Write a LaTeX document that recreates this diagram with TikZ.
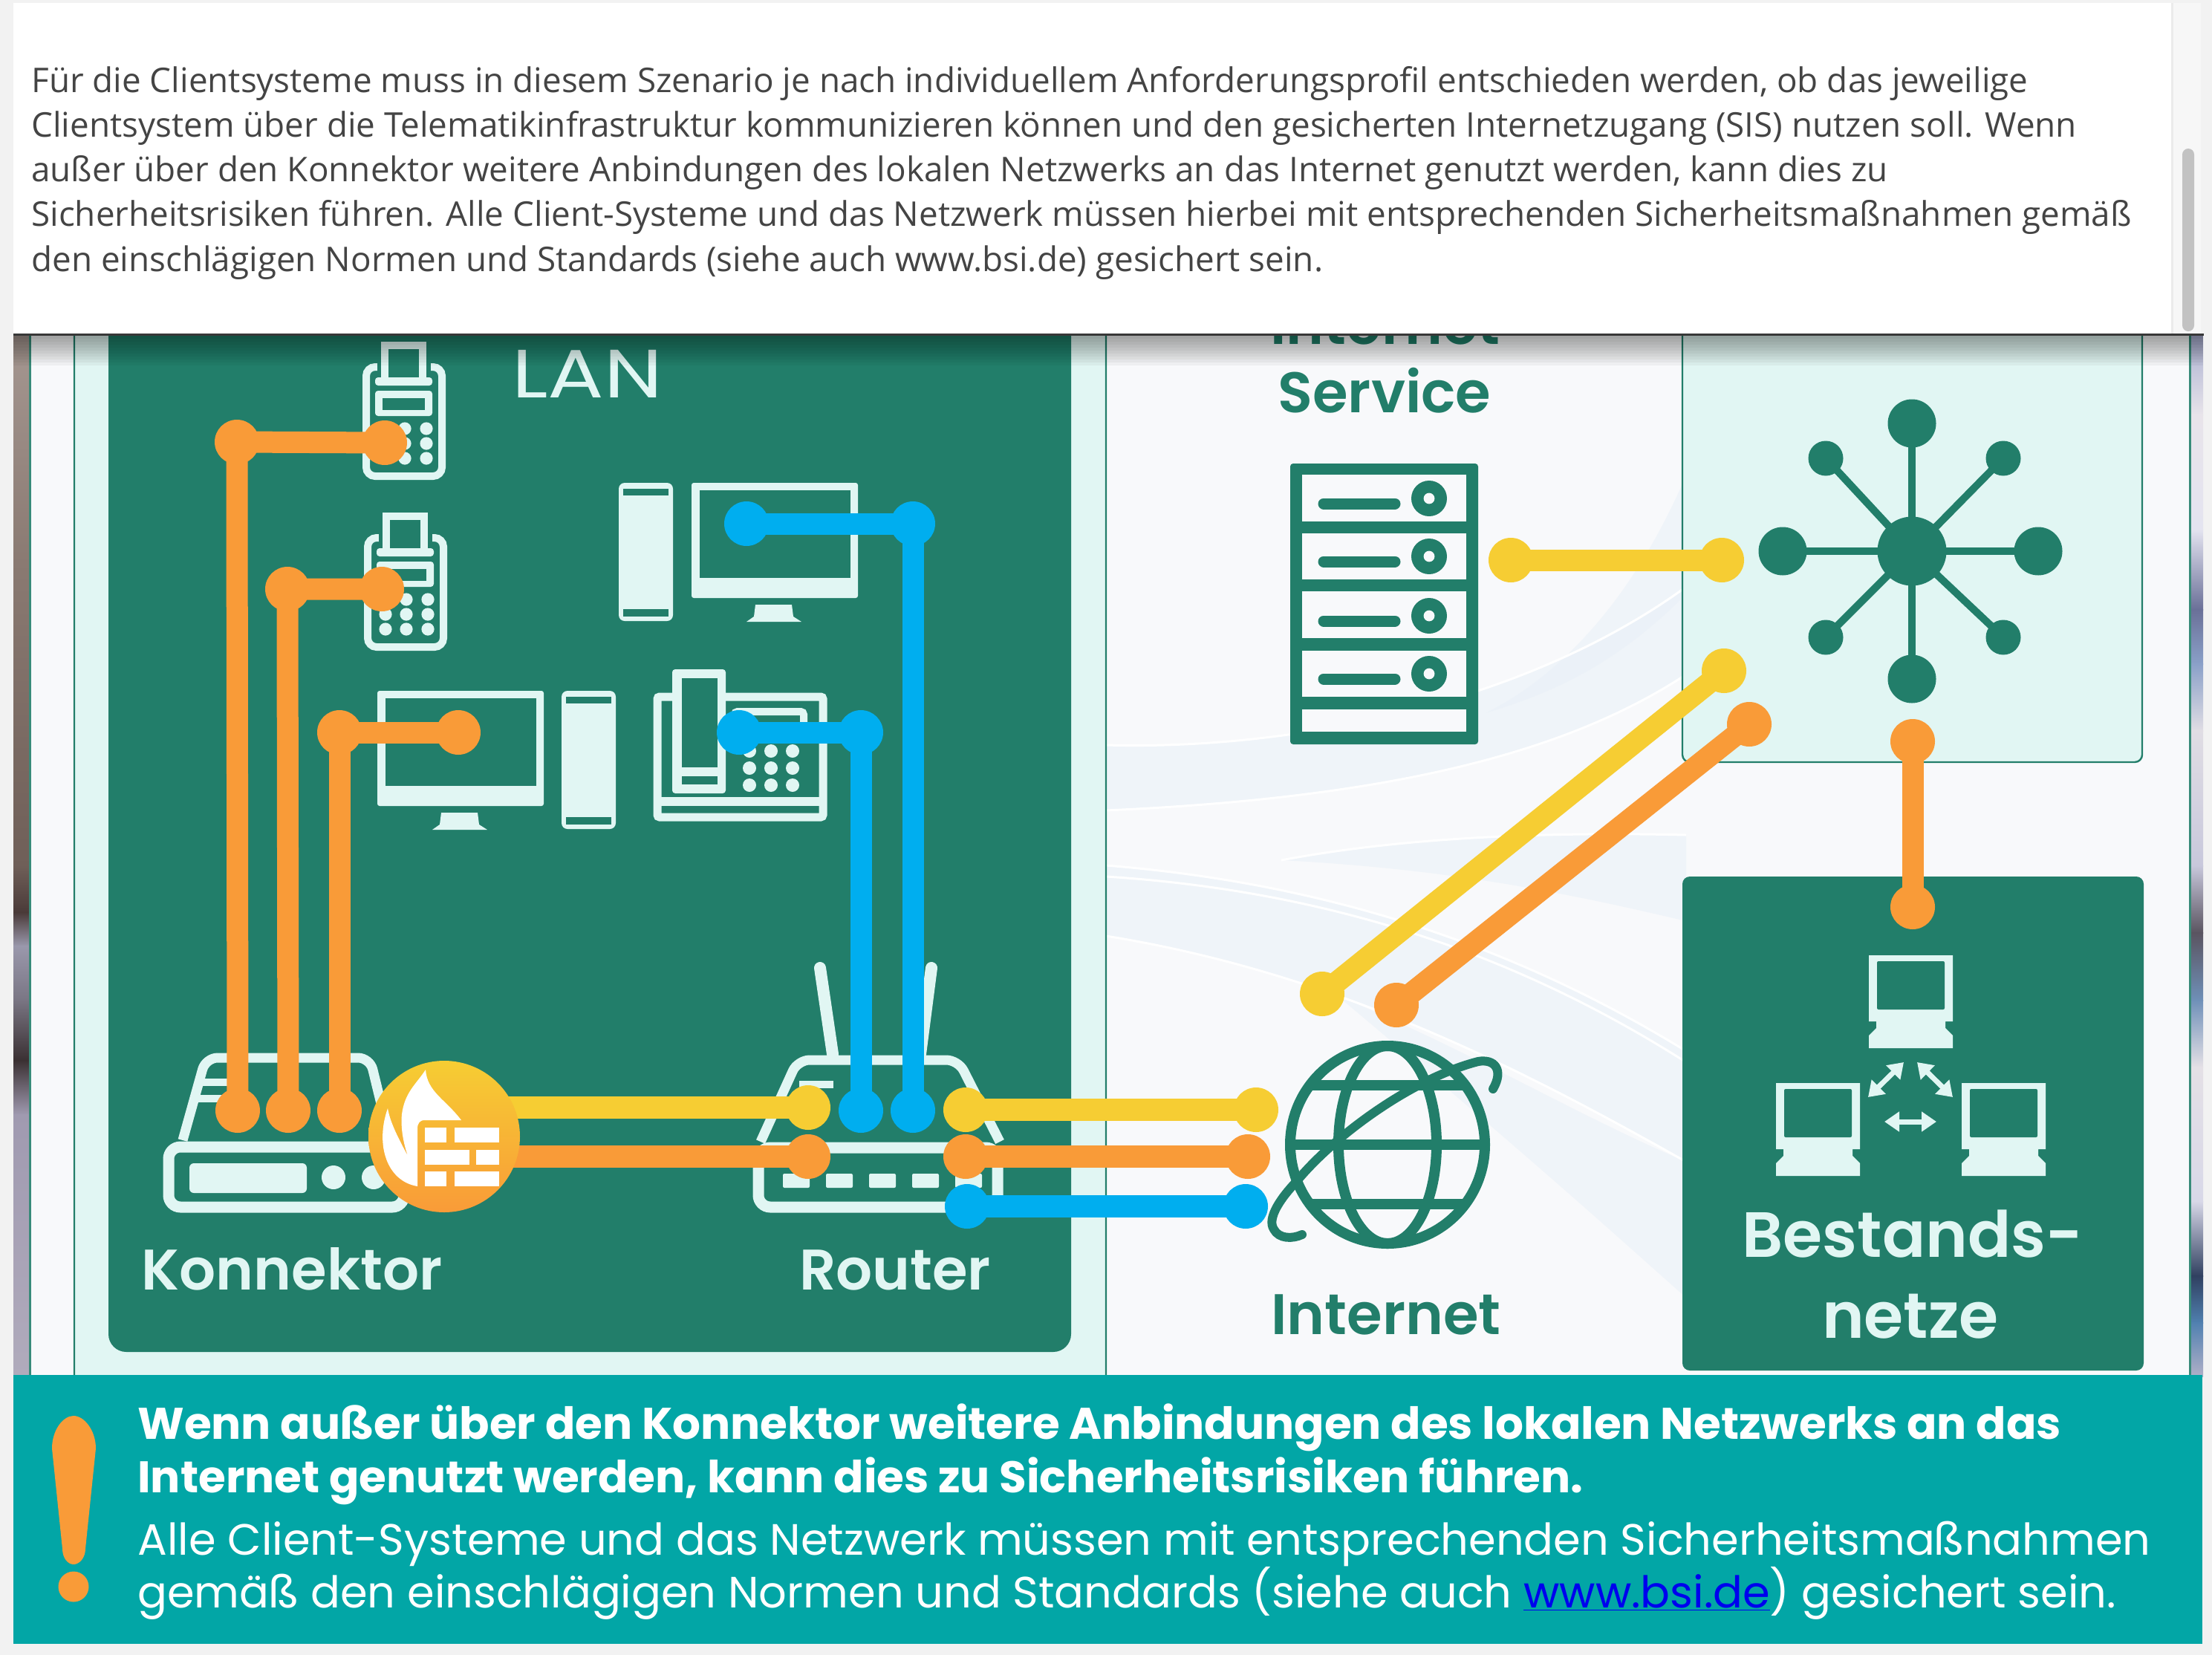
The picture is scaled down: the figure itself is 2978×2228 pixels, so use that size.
\documentclass[tikz,border=0pt]{standalone}
\usepackage{fontspec}
\setmainfont{Open Sans}
\newfontfamily\labelfont{Poppins}
\newfontfamily\labelmedium{Poppins SemiBold}
\usetikzlibrary{positioning,arrows.meta}

\definecolor{pagegray}{HTML}{F2F2F2}
\definecolor{paneltext}{HTML}{444444}
\definecolor{darkgreen}{HTML}{227E6A}
\definecolor{palegreen}{HTML}{E1F6F3}
\definecolor{bannerteal}{HTML}{02A6A6}
\definecolor{wireorange}{HTML}{F99B38}
\definecolor{wireyellow}{HTML}{F6CD33}
\definecolor{wireblue}{HTML}{00AEEF}
\definecolor{linkblue}{HTML}{0000EE}
\definecolor{backwhite}{HTML}{F8F9FB}
\definecolor{swooshblue}{HTML}{E9F0F8}

% Colours of the two photo strips at the edges
\definecolor{la}{HTML}{A59791}
\definecolor{lb}{HTML}{8A7A72}
\definecolor{lc}{HTML}{6F5F58}
\definecolor{ld}{HTML}{4A3A38}
\definecolor{le}{HTML}{9A98AC}
\definecolor{lf}{HTML}{7A7684}
\definecolor{lg}{HTML}{3A3032}
\definecolor{lh}{HTML}{A09AB0}
\definecolor{li}{HTML}{B0ABBC}
\definecolor{ra}{HTML}{A8AED0}
\definecolor{rb}{HTML}{E8E4EA}
\definecolor{rc}{HTML}{E4E4F0}
\definecolor{rd}{HTML}{6A7098}
\definecolor{re}{HTML}{8AA0C8}
\definecolor{rf}{HTML}{E0DDE4}
\definecolor{rg}{HTML}{C8C8DC}
\definecolor{rh}{HTML}{5A5460}
\definecolor{ri}{HTML}{6F90B8}
\definecolor{rj}{HTML}{E4E0E6}
\definecolor{rk}{HTML}{D8D8E8}
\definecolor{rl}{HTML}{304060}
\definecolor{rm}{HTML}{5080B0}
\definecolor{rn}{HTML}{B0B0C8}

\tikzset{
    pics/monitor/.style={code={
        \fill[palegreen,rounded corners=1.5pt] (0,0) rectangle (224,155);
        \fill[darkgreen] (11,10) rectangle (214,128);
        \fill[palegreen] (86,164) -- (135,164) -- (137,180) -- (148,187) -- (74,187) -- (84,180) -- cycle;
    }},
    pics/tower/.style={code={
        \fill[palegreen,rounded corners=4pt] (0,0) rectangle (73,186);
        \fill[darkgreen] (6,8) rectangle (67,17);
        \fill[darkgreen] (6,170) rectangle (67,180);
    }},
    pics/terminal/.style={code={
        \draw[iconline,line width=5pt,rounded corners=6pt] (5,5) rectangle (107,152);
        \fill[darkgreen] (20,-5) rectangle (92,15);
        \draw[iconline,line width=5pt] (30,19) -- (30,-24) -- (81,-24) -- (81,19);
        \fill[palegreen,rounded corners=2pt] (17,19) rectangle (94,30);
        \fill[palegreen,rounded corners=2pt] (17,37) rectangle (94,71);
        \fill[darkgreen] (27,47) rectangle (84,63);
        \foreach \r in {88,108,128}
            \foreach \c in {29,57,86}
                \fill[palegreen] (\c,\r) circle (4.3pt);
    }},
    pics/laptop/.style={code={
        \fill[palegreen] (0,0) -- (113,0) -- (113,89) -- (103,89) -- (103,98) -- (113,108) -- (113,125)
            -- (0,125) -- (0,108) -- (10,98) -- (10,89) -- (0,89) -- cycle;
        \fill[darkgreen,rounded corners=1pt] (11,8) rectangle (102,73);
    }}
}

\begin{document}
\begin{tikzpicture}[
        x=0.5pt,
        y=-0.5pt,
        iconline/.style={
            draw=palegreen,
            line width=7.5pt
        },
        wire/.style={
            line width=14.5pt
        },
        orangedot/.style={
            circle,
            fill=wireorange,
            inner sep=0pt,
            minimum size=30pt
        },
        yellowdot/.style={
            orangedot,
            fill=wireyellow
        },
        bluedot/.style={
            orangedot,
            fill=wireblue
        },
        hub/.style={
            circle,
            fill=darkgreen,
            inner sep=0pt,
            minimum size=#1
        },
        spoke/.style={
            draw=darkgreen,
            line width=5pt
        },
        swooshband/.style={
            swooshblue,
            opacity=.55
        },
        swooshline/.style={
            white,
            line width=1.5pt
        },
        panelline/.style={
            anchor=base west,
            inner sep=0pt,
            text=paneltext,
            font=\fontsize{22.9}{28}\selectfont
        },
        bannerline/.style={
            anchor=base west,
            inner sep=0pt,
            text=white,
            font=\labelfont\fontsize{29.5}{35}\selectfont
        },
        bannerbold/.style={
            bannerline,
            font=\labelfont\bfseries\fontsize{29.8}{35}\selectfont
        },
        greenlabel/.style={
            anchor=base,
            inner sep=0pt,
            text=darkgreen,
            font=\labelmedium\fontsize{38.5}{46}\selectfont
        },
        palelabel/.style={
            greenlabel,
            text=palegreen
        },
        biglabel/.style={
            palelabel,
            font=\labelmedium\fontsize{43}{52}\selectfont
        },
        doublearrow/.style={
            draw=palegreen,
            line width=3.5pt,
            {Triangle[length=10pt,width=13pt]}-{Triangle[length=10pt,width=13pt]}
        }
    ]
    \useasboundingbox (0,0) rectangle (2978,2228);

    % Page and backdrop
    \fill[pagegray] (0,0) rectangle (2978,2228);
    \fill[backwhite] (40,450) rectangle (2948,1852);
    \foreach \t/\b/\u/\v in {450/757/la/lb,757/1165/lb/lc,1165/1228/lc/ld,1228/1273/ld/le,1273/1345/le/lf,1345/1427/lf/lg,1427/1500/lg/lh,1500/1852/lh/li}
        \shade[top color=\u,bottom color=\v] (18,\t) rectangle (40,\b+1);
    \foreach \t/\b/\u/\v in {450/558/ra/rb,558/712/rb/rc,712/820/rc/rd,820/893/rd/re,893/983/re/rf,983/1165/rf/rg,1165/1255/rg/rh,1255/1346/rh/ri,1346/1436/ri/rj,1436/1617/rj/rk,1617/1717/rk/rl,1717/1780/rl/rm,1780/1852/rm/rn}
        \shade[top color=\u,bottom color=\v] (2948,\t) rectangle (2966,\b+1);

    % Soft swooshes behind the right part
    \begin{scope}
        \clip (1489,450) rectangle (2948,1852);
        \fill[swooshband] (1489,1003) .. controls (1735,1010) and (2050,950) .. (2270,790)
            -- (2270,908) .. controls (2100,1020) and (1850,1075) .. (1489,1091) -- cycle;
        \fill[swooshband] (2000,960) .. controls (2120,900) and (2210,780) .. (2270,640)
            -- (2270,800) .. controls (2180,890) and (2100,930) .. (2000,960) -- cycle;
        \fill[swooshband] (1489,1165) .. controls (1800,1190) and (2050,1280) .. (2270,1415)
            -- (2270,1564) .. controls (2050,1440) and (1800,1310) .. (1489,1260) -- cycle;
        \fill[swooshband] (1800,1340) .. controls (1990,1420) and (2120,1500) .. (2270,1564)
            -- (2270,1747) .. controls (2150,1640) and (2050,1550) .. (1800,1340) -- cycle;
        \fill[swooshband] (1725,1158) .. controls (1900,1125) and (2100,1120) .. (2270,1124)
            -- (2270,1240) .. controls (2100,1200) and (1950,1170) .. (1725,1158) -- cycle;
        \draw[swooshline] (1489,1165) .. controls (1800,1190) and (2050,1280) .. (2270,1415);
        \draw[swooshline] (1489,1180) .. controls (1800,1200) and (2050,1290) .. (2270,1430);
        \draw[swooshline] (1489,1260) .. controls (1800,1310) and (2050,1440) .. (2270,1564);
        \draw[swooshline] (1489,1003) .. controls (1735,1010) and (2050,950) .. (2270,790);
        \draw[swooshline] (1489,1091) .. controls (1850,1075) and (2100,1020) .. (2270,908);
        \draw[swooshline] (1725,1158) .. controls (1900,1125) and (2100,1120) .. (2270,1124);
    \end{scope}

    % Frames
    \draw[darkgreen!90!white,line width=1.5pt] (40,440) -- (40,1852);
    \draw[darkgreen!90!white,line width=1.5pt] (2948,440) -- (2948,1852);
    \draw[darkgreen,fill=palegreen,line width=1.2pt,rounded corners=12pt] (100,400) rectangle (1489,1890);
    \fill[darkgreen,rounded corners=12pt] (146,420) rectangle (1442,1820);
    \draw[darkgreen,fill=palegreen,line width=1.2pt,rounded corners=5pt] (2265,400) rectangle (2884,1026);
    \fill[darkgreen,rounded corners=5pt] (2265,1180) rectangle (2886,1845);

    % LAN devices
    \pic at (488,489) {terminal};
    \pic at (490,719) {terminal};
    \pic at (931,650) {monitor};
    \pic at (833,650) {tower};
    \pic at (508,930) {monitor};
    \pic at (756,930) {tower};

    % Desk phone
    \draw[iconline,line width=5.5pt,rounded corners=1.5pt] (885,938) rectangle (1108,1100);
    \draw[palegreen,line width=6pt] (885,1079) -- (1108,1079);
    \fill[palegreen,rounded corners=2pt] (905,901) rectangle (977,1068);
    \fill[darkgreen] (918,913) rectangle (966,1033);
    \fill[darkgreen] (918,1045) rectangle (966,1056);
    \draw[iconline,line width=5pt,rounded corners=2pt] (989,1000) -- (989,958) -- (1082,958) -- (1082,1000);
    \foreach \r in {988,1011,1034,1057}
        \foreach \c in {1009,1038,1067}
            \fill[palegreen] (\c,\r) circle (4.5pt);

    % Konnektor body
    \draw[iconline,rounded corners=8pt] (227,1544) rectangle (544,1625);
    \draw[iconline,line width=6.5pt,rounded corners=8pt] (246,1535) -- (277,1424) -- (498,1424) -- (525,1535);
    \draw[iconline,line width=5pt] (268,1457) -- (310,1457);
    \draw[iconline,line width=5pt] (260,1479) -- (310,1479);
    \fill[palegreen,rounded corners=3pt] (255,1566) rectangle (413,1606);
    \fill[palegreen] (449,1585) circle (8pt);
    \fill[palegreen] (503,1585) circle (8pt);

    % Router body
    \draw[iconline,rounded corners=8pt] (1021,1545) rectangle (1343,1625);
    \draw[iconline,line width=6.5pt,rounded corners=8pt] (1024,1537) -- (1074,1427) -- (1290,1427) -- (1346,1537);
    \draw[iconline,line width=5pt,rounded corners=2pt] (1076,1460) -- (1122,1460);
    \draw[iconline,line width=8pt,line cap=round] (1104,1303) -- (1121,1419);
    \draw[iconline,line width=8pt,line cap=round] (1254,1303) -- (1239,1419);
    \foreach \c in {1054,1112,1170,1228,1286}
        \fill[palegreen,rounded corners=1pt] (\c,1580) rectangle (\c+36,1599);

    % Server rack
    \fill[darkgreen,rounded corners=2pt] (1737,624) rectangle (1990,1002);
    \foreach \t/\b in {639/702,718/780,796/859,876/938,955/985}
        \fill[backwhite] (1753,\t) rectangle (1974,\b);
    \foreach \y in {671,749,829,907} {
        \draw[darkgreen,line width=7.5pt,line cap=round] (1782,\y+7) -- (1878,\y+7);
        \fill[darkgreen] (1924,\y) circle (12pt);
        \fill[backwhite] (1924,\y) circle (3.7pt);
    }

    % Star network
    \node[hub=46.5pt] (core) at (2574,742) {};
    \node[hub=32.5pt] (n1) at (2574,570) {};
    \node[hub=32.5pt] (n2) at (2744,742) {};
    \node[hub=32.5pt] (n3) at (2574,914) {};
    \node[hub=32.5pt] (n4) at (2400,742) {};
    \node[hub=23.5pt] (n5) at (2458,617) {};
    \node[hub=23.5pt] (n6) at (2697,617) {};
    \node[hub=23.5pt] (n7) at (2697,858) {};
    \node[hub=23.5pt] (n8) at (2458,858) {};
    \foreach \i in {1,2,3,4,5,6,7,8}
        \draw[spoke] (core.center) -- (n\i.center);

    % Globe
    \draw[darkgreen,line width=7pt] (1868,1541) ellipse (131 and 133);
    \draw[darkgreen,line width=7pt] (1868,1541) ellipse (66 and 133);
    \draw[darkgreen,line width=7pt] (1738,1541) -- (1998,1541);
    \draw[darkgreen,line width=7pt] (1765,1461) -- (1971,1461);
    \draw[darkgreen,line width=7pt] (1765,1621) -- (1971,1621);
    \draw[darkgreen,line width=6pt,line cap=round] (2010,1466) .. controls (2025,1440) and (2012,1425) .. (1990,1429)
        .. controls (1900,1452) and (1795,1530) .. (1745,1591) .. controls (1725,1612) and (1705,1640) .. (1715,1655)
        .. controls (1722,1668) and (1740,1668) .. (1753,1662);

    % Workstations of the existing networks
    \pic at (2516,1286) {laptop};
    \pic at (2391,1458) {laptop};
    \pic at (2641,1458) {laptop};
    \coordinate (netA) at (2563,1430);
    \coordinate (netB) at (2515,1477);
    \coordinate (netC) at (2581,1430);
    \coordinate (netD) at (2629,1477);
    \coordinate (netE) at (2537,1510);
    \coordinate (netF) at (2607,1510);
    \draw[doublearrow] (netA) -- (netB);
    \draw[doublearrow] (netC) -- (netD);
    \draw[doublearrow] (netE) -- (netF);

    % Labels
    \node[palelabel,font=\labelfont\fontsize{46}{54}\selectfont] (lan) at (791,535) {\scalebox{1.22}[1]{LAN}};
    \node[palelabel] (konn) at (393,1736) {Konnektor};
    \node[palelabel] (rout) at (1205,1736) {Router};
    \node[greenlabel] (inetA) at (1865,463) {Internet};
    \node[greenlabel] (serv) at (1864,555) {Service};
    \node[greenlabel] (inetB) at (1866,1796) {Internet};
    \node[biglabel] (best) at (2575,1692) {Bestands-};
    \node[biglabel] (netz) at (2572,1801) {netze};

    % Wire end points
    \node[orangedot] (oa1) at (319,595) {};
    \node[orangedot] (oa2) at (518,596) {};
    \node[orangedot] (oa3) at (320,1495) {};
    \node[orangedot] (ob1) at (387,793) {};
    \node[orangedot] (ob2) at (514,793) {};
    \node[orangedot] (ob3) at (388,1495) {};
    \node[orangedot] (oc1) at (457,986) {};
    \node[orangedot] (oc2) at (617,986) {};
    \node[orangedot] (oc3) at (457,1495) {};
    \node[bluedot] (ba1) at (1005,705) {};
    \node[bluedot] (ba2) at (1229,705) {};
    \node[bluedot] (ba3) at (1229,1495) {};
    \node[bluedot] (bb1) at (995,986) {};
    \node[bluedot] (bb2) at (1159,986) {};
    \node[bluedot] (bb3) at (1159,1495) {};
    \node[yellowdot] (ya) at (1088,1491) {};
    \node[orangedot] (od) at (1088,1557) {};
    \node[yellowdot] (yb1) at (1300,1494) {};
    \node[yellowdot] (yb2) at (1691,1494) {};
    \node[orangedot] (oe1) at (1300,1557) {};
    \node[orangedot] (oe2) at (1680,1557) {};
    \node[bluedot] (bc1) at (1302,1624) {};
    \node[bluedot] (bc2) at (1677,1624) {};
    \node[yellowdot] (yc1) at (2034,754) {};
    \node[yellowdot] (yc2) at (2318,754) {};
    \node[yellowdot] (yd1) at (1780,1338) {};
    \node[yellowdot] (yd2) at (2321,903) {};
    \node[orangedot] (of1) at (1880,1353) {};
    \node[orangedot] (of2) at (2355,975) {};
    \node[orangedot] (og1) at (2575,998) {};
    \node[orangedot] (og2) at (2575,1221) {};

    % Wires
    \draw[wire,wireorange] (oa2.center) -- (oa1.center) -- (oa3.center);
    \draw[wire,wireorange] (ob2.center) -- (ob1.center) -- (ob3.center);
    \draw[wire,wireorange] (oc2.center) -- (oc1.center) -- (oc3.center);
    \draw[wire,wireblue] (ba1.center) -- (ba2.center) -- (ba3.center);
    \draw[wire,wireblue] (bb1.center) -- (bb2.center) -- (bb3.center);
    \draw[wire,wireyellow,line width=15pt] (yb1.center) -- (yb2.center);
    \draw[wire,wireorange,line width=15pt] (oe1.center) -- (oe2.center);
    \draw[wire,wireblue,line width=15pt] (bc1.center) -- (bc2.center);
    \draw[wire,wireyellow] (yc1.center) -- (yc2.center);
    \draw[wire,wireyellow] (yd1.center) -- (yd2.center);
    \draw[wire,wireorange] (of1.center) -- (of2.center);
    \draw[wire,wireorange] (og1.center) -- (og2.center);

    % Firewall badge
    \coordinate (wallY) at (598,1491);
    \coordinate (wallO) at (598,1557);
    \draw[wire,wireyellow,line width=15pt] (wallY) -- (ya.center);
    \draw[wire,wireorange,line width=15pt] (wallO) -- (od.center);
    \node[circle,inner sep=0pt,minimum size=102pt,top color=wireyellow,bottom color=wireorange] (wall) at (598,1530) {};
    \fill[white] (573,1440) .. controls (560,1460) and (545,1470) .. (541,1500) .. controls (540,1510) and (540,1530) .. (549,1556)
        .. controls (535,1530) and (525,1510) .. (522,1492) .. controls (505,1540) and (520,1590) .. (562,1597)
        -- (562,1520) .. controls (562,1512) and (565,1508) .. (572,1508) -- (621,1508)
        .. controls (600,1480) and (575,1470) .. (573,1440) -- cycle;
    \foreach \a/\b/\c in {572/601/1518,612/672/1518,572/632/1548,641/672/1548,572/601/1577,612/672/1577}
        \fill[white] (\a,\c) rectangle (\b,\c+20);

    % Notice panel with scroll bar
    \fill[white] (18,4) rectangle (2925,450);
    \fill[black!3] (2925,4) rectangle (2963,450);
    \fill[black!8] (2923,4) rectangle (2926,450);
    \fill[black!24,rounded corners=4pt] (2938,200) rectangle (2954,446);
    \foreach \s in {1,2,...,10}
        \fill[black,opacity=0.04] (18,452) rectangle (2966,452+\s*4);
    \draw[black!78,line width=1.5pt] (18,450) -- (2967,450);

    \node[panelline] (line1) at (42,124) {Für die Clientsysteme muss in diesem Szenario je nach individuellem Anforderungsprofil entschieden werden, ob das jeweilige};
    \node[panelline] (line2) at (42,184) {Clientsystem über die Telematikinfrastruktur kommunizieren können und den gesicherten Internetzugang (SIS) nutzen soll. Wenn};
    \node[panelline] (line3) at (42,244) {außer über den Konnektor weitere Anbindungen des lokalen Netzwerks an das Internet genutzt werden, kann dies zu};
    \node[panelline] (line4) at (42,304) {Sicherheitsrisiken führen. Alle Client-Systeme und das Netzwerk müssen hierbei mit entsprechenden Sicherheitsmaßnahmen gemäß};
    \node[panelline] (line5) at (42,365) {den einschlägigen Normen und Standards (siehe auch www.bsi.de) gesichert sein.};

    % Warning banner
    \fill[bannerteal] (18,1851) rectangle (2965,2213);
    \fill[wireorange] (70,1950) .. controls (70,1925) and (85,1906) .. (99,1906) .. controls (113,1906) and (129,1925) .. (129,1950)
        -- (115,2085) .. controls (115,2097) and (107,2106) .. (99,2106) .. controls (91,2106) and (84,2097) .. (84,2085) -- cycle;
    \node[circle,fill=wireorange,inner sep=0pt,minimum size=20.5pt] (warndot) at (99,2136) {};
    \node[bannerbold] (warn1) at (185,1937) {Wenn außer über den Konnektor weitere Anbindungen des lokalen Netzwerks an das};
    \node[bannerbold] (warn2) at (185,2009) {Internet genutzt werden, kann dies zu Sicherheitsrisiken führen.};
    \node[bannerline] (warn3) at (185,2093) {Alle Client-Systeme und das Netzwerk müssen mit entsprechenden Sicherheitsmaßnahmen};
    \node[bannerline] (warn4) at (185,2164) {gemäß den einschlägigen Normen und Standards (siehe auch \textcolor{linkblue}{\underline{www.bsi.de}}) gesichert sein.};
\end{tikzpicture}
\end{document}
